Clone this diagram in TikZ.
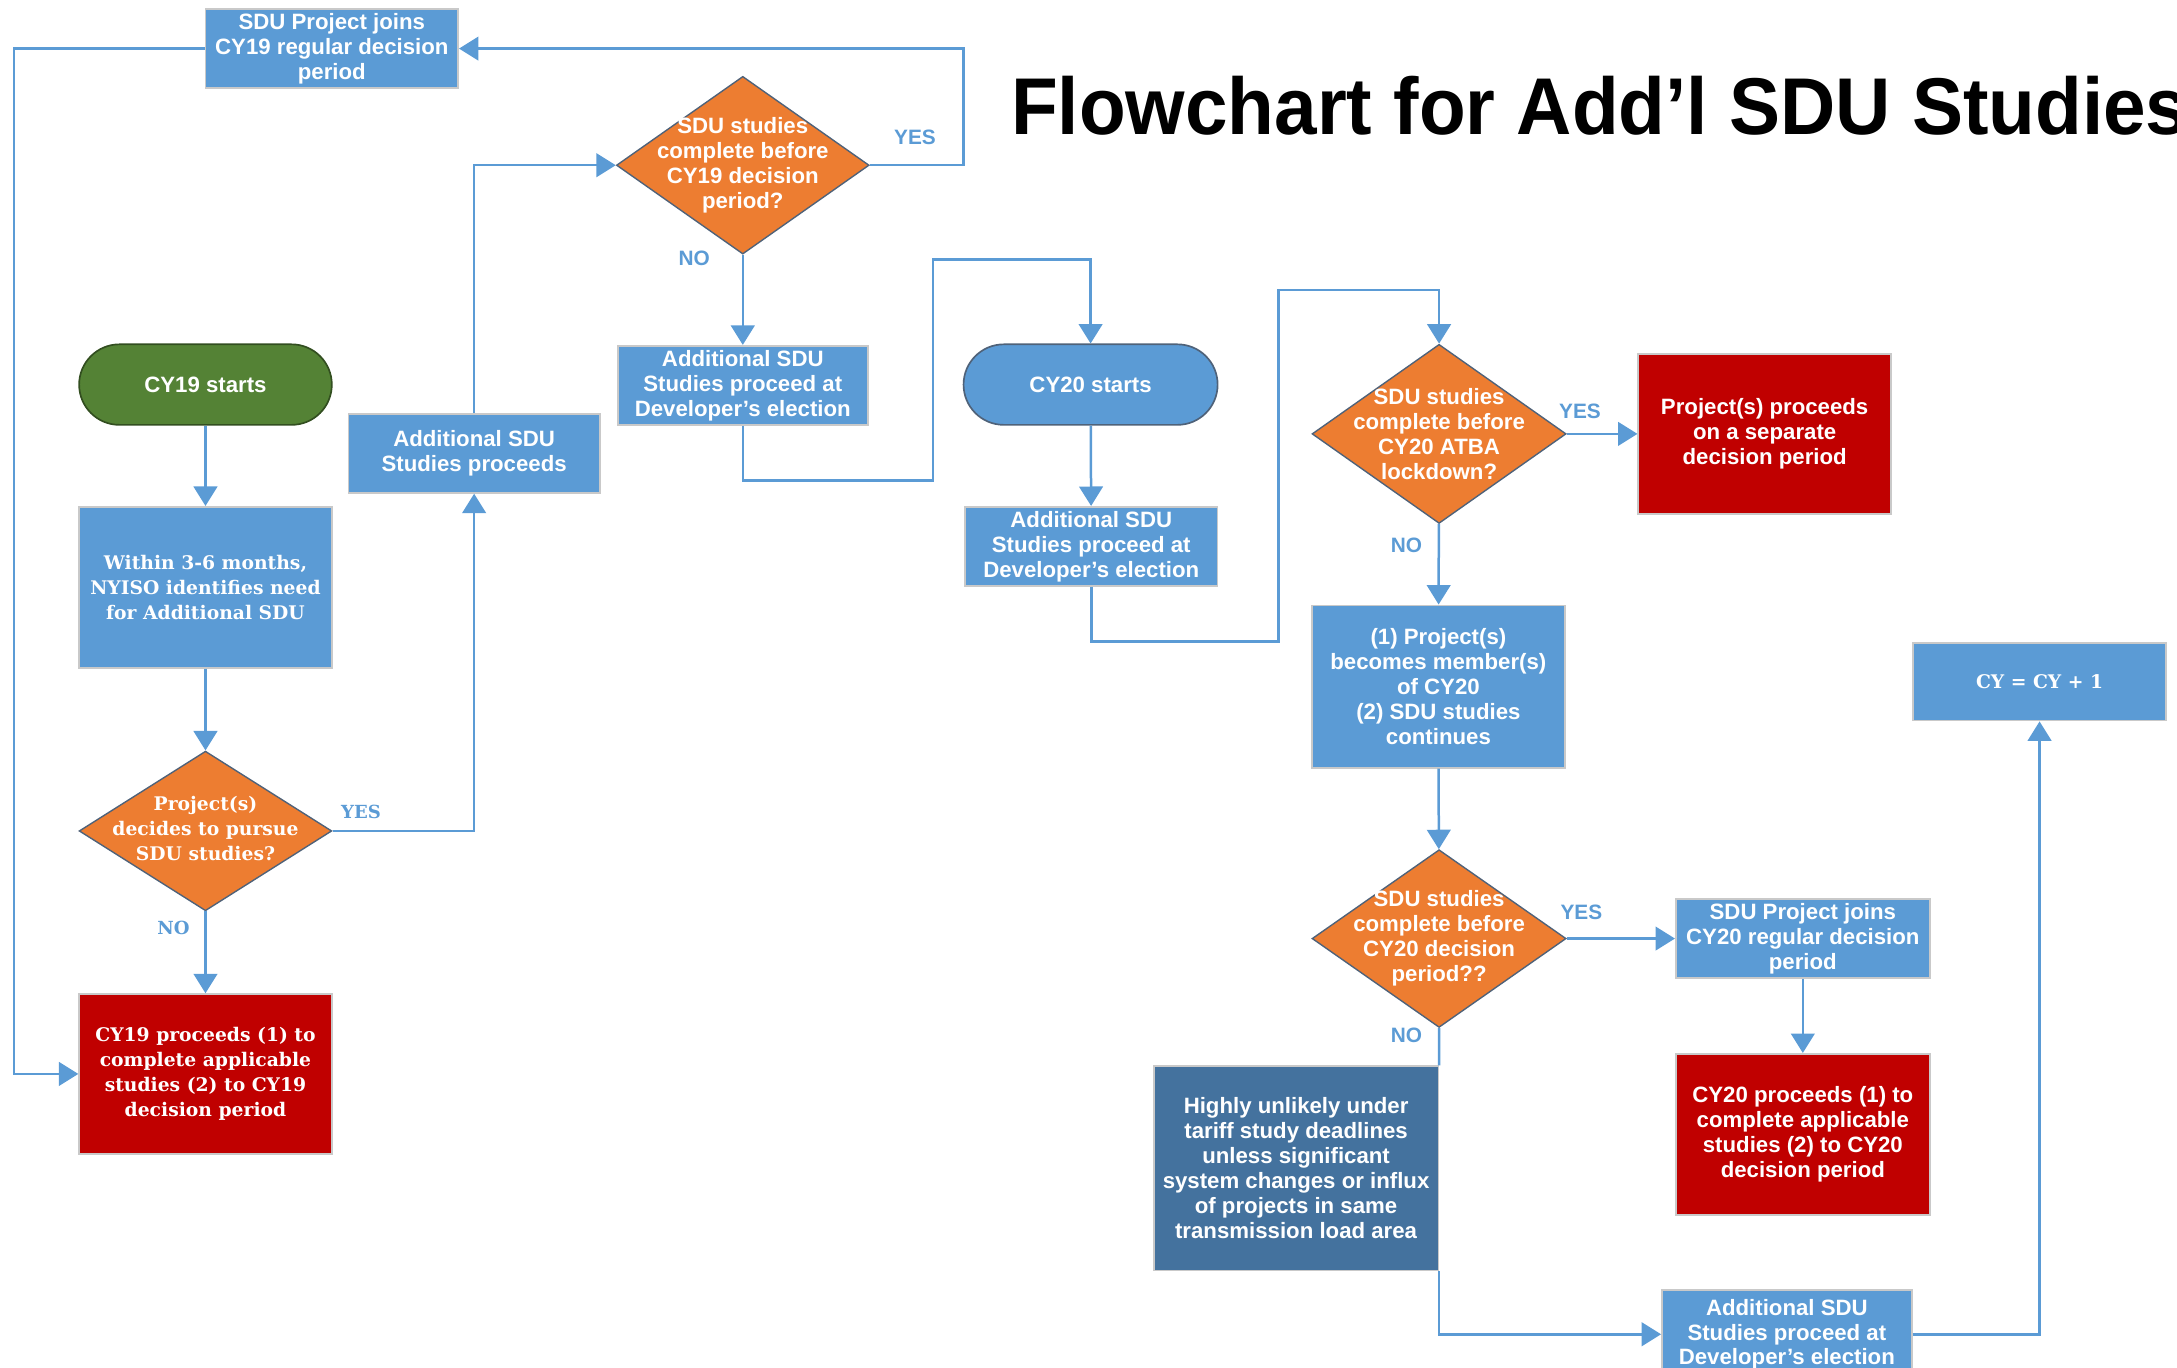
\documentclass[tikz,border=0pt]{standalone}
\usepackage{fontspec}
\setmainfont{Liberation Sans}
\newfontfamily\condf{Liberation Sans}
\newfontfamily\slabf{DejaVu Serif}
\newfontfamily\titlef[FakeStretch=0.95]{Liberation Sans}
\usetikzlibrary{arrows.meta,shapes.geometric}
\definecolor{sblue}{HTML}{5B9BD5}
\definecolor{sorange}{HTML}{ED7D31}
\definecolor{sgreen}{HTML}{548235}
\definecolor{sred}{HTML}{C00000}
\definecolor{sdark}{HTML}{44729E}
\definecolor{bgray}{HTML}{C9C9C9}
\definecolor{dborder}{HTML}{4F6279}
\begin{document}
\begin{tikzpicture}[x=1pt,y=-1pt,
  sansfont/.style={font=\condf\bfseries\fontsize{16}{18}\selectfont},
  slabfont/.style={font=\slabf\bfseries\fontsize{13.5}{18}\selectfont},
  box/.style={rectangle, fill=sblue, draw=bgray, line width=1.2pt, inner sep=0pt,
    align=center, text=white, minimum width=182pt, minimum height=57pt, sansfont},
  redbox/.style={box, fill=sred, minimum height=115pt},
  darkbox/.style={box, fill=sdark},
  term/.style={box, rounded corners=29pt, draw=dborder, minimum height=58pt},
  dia/.style={diamond, fill=sorange, draw=dborder, line width=1pt, inner sep=0pt,
    minimum width=182pt, minimum height=128pt},
  dtext/.style={align=center, text=white, inner sep=0pt, sansfont},
  lbl/.style={text=sblue, inner sep=0pt, font=\condf\bfseries\fontsize{15}{17}\selectfont},
  slbl/.style={text=sblue, inner sep=0pt, font=\slabf\bfseries\fontsize{13}{15}\selectfont},
  conn/.style={draw=sblue, line width=1.8pt},
  arr/.style={conn, -{Triangle[width=17pt,length=14pt]}}
]
\useasboundingbox (0,0) rectangle (1568,985);

% title
\node[anchor=base west, inner sep=0pt, font=\titlef\bfseries\fontsize{58}{60}\selectfont] (title) at (728,97) {Flowchart for Add’l SDU Studies};

% left column
\node[box] (top) at (239,35) {SDU Project joins\\CY19 regular decision\\period};
\node[dia] (d1) at (535,119) {};
\node[dtext] (d1t) at (535,119) {SDU studies\\complete before\\CY19 decision\\period?};
\node[box, minimum width=180pt] (a1) at (535,277.5) {Additional SDU\\Studies proceed at\\Developer’s election};
\node[term, fill=sgreen, draw=sgreen!60!black] (cy19) at (148,277) {CY19 starts};
\node[box, minimum width=181pt] (b) at (341.5,326.5) {Additional SDU\\Studies proceeds};
\node[box, minimum height=116pt, slabfont] (w) at (148,423) {Within 3-6 months,\\NYISO identifies need\\for Additional SDU};
\node[dia, minimum height=115pt] (d0) at (148,598.5) {};
\node[dtext, slabfont] (d0t) at (148,597) {Project(s)\\decides to pursue\\SDU studies?};
\node[redbox, slabfont] (r1) at (148,773.5) {CY19 proceeds (1) to\\complete applicable\\studies (2) to CY19\\decision period};

% middle
\node[term, minimum width=183pt] (cy20) at (785.5,277) {CY20 starts};
\node[box] (a2) at (786,393.5) {Additional SDU\\Studies proceed at\\Developer’s election};
\node[dia, minimum width=183pt, minimum height=129pt] (d2) at (1036.5,312.5) {};
\node[dtext] (d2t) at (1036.5,312.5) {SDU studies\\complete before\\CY20 ATBA\\lockdown?};
\node[redbox] (r2) at (1271,312.5) {Project(s) proceeds\\on a separate\\decision period};
\node[box, minimum height=117pt] (m) at (1036,494.5) {(1) Project(s)\\becomes member(s)\\of CY20\\(2) SDU studies\\continues};
\node[dia, minimum width=183pt] (d3) at (1036.5,676) {};
\node[dtext] (d3t) at (1036.5,676) {SDU studies\\complete before\\CY20 decision\\period??};
\node[box, minimum width=183pt] (j2) at (1298.5,676) {SDU Project joins\\CY20 regular decision\\period};
\node[redbox, minimum width=183pt, minimum height=116pt] (r3) at (1298.5,817) {CY20 proceeds (1) to\\complete applicable\\studies (2) to CY20\\decision period};
\node[darkbox, minimum width=205pt, minimum height=147pt] (h) at (933.5,841.5) {Highly unlikely under\\tariff study deadlines\\unless significant\\system changes or influx\\of projects in same\\transmission load area};
\node[box, minimum width=180pt, minimum height=64pt] (a3) at (1287,961) {Additional SDU\\Studies proceed at\\Developer’s election};
\node[box, minimum height=56pt, slabfont] (cy) at (1469,491) {CY = CY + 1};

% helper coordinates
\coordinate (k1) at (694,35);
\coordinate (k2) at (10,35);
\coordinate (k3) at (672,346);
\coordinate (k4) at (785.5,187);
\coordinate (k5) at (921,462);
\coordinate (k6) at (1036.5,209);

% connectors
\draw[arr] (cy19) -- (w);
\draw[arr] (w) -- (d0);
\draw[arr] (d0) -- (r1);
\draw[arr] (d0.east) -| (b.south);
\draw[arr] (b.north) |- (d1.west);
\draw[arr] (d1.east) -| (k1) -- (top.east);
\draw[arr] (top.west) -- (k2) |- (r1.west);
\draw[arr] (d1) -- (a1);
\draw[arr] (a1.south) |- (k3) |- (k4) -- (cy20.north);
\draw[arr] (cy20) -- (a2);
\draw[arr] (a2.south) |- (k5) |- (k6) -- (d2.north);
\draw[arr] (d2.east) -- (r2.west);
\draw[arr] (d2) -- (m);
\draw[arr] (m) -- (d3);
\draw[arr] (d3.east) -- (j2.west);
\draw[arr] (j2) -- (r3);
\draw[conn] (d3.south) -- (h.north east);
\draw[arr] (h.south east) |- (a3.west);
\draw[arr] (a3.east) -| (cy.south);

% labels
\node[lbl] (l1) at (659,99) {YES};
\node[lbl] (l2) at (500,186) {NO};
\node[slbl] (l3) at (260,585) {YES};
\node[slbl] (l4) at (125,668) {NO};
\node[lbl] (l5) at (1138,296) {YES};
\node[lbl] (l6) at (1013,393) {NO};
\node[lbl] (l7) at (1139,657) {YES};
\node[lbl] (l8) at (1013,746) {NO};
\end{tikzpicture}
\end{document}
